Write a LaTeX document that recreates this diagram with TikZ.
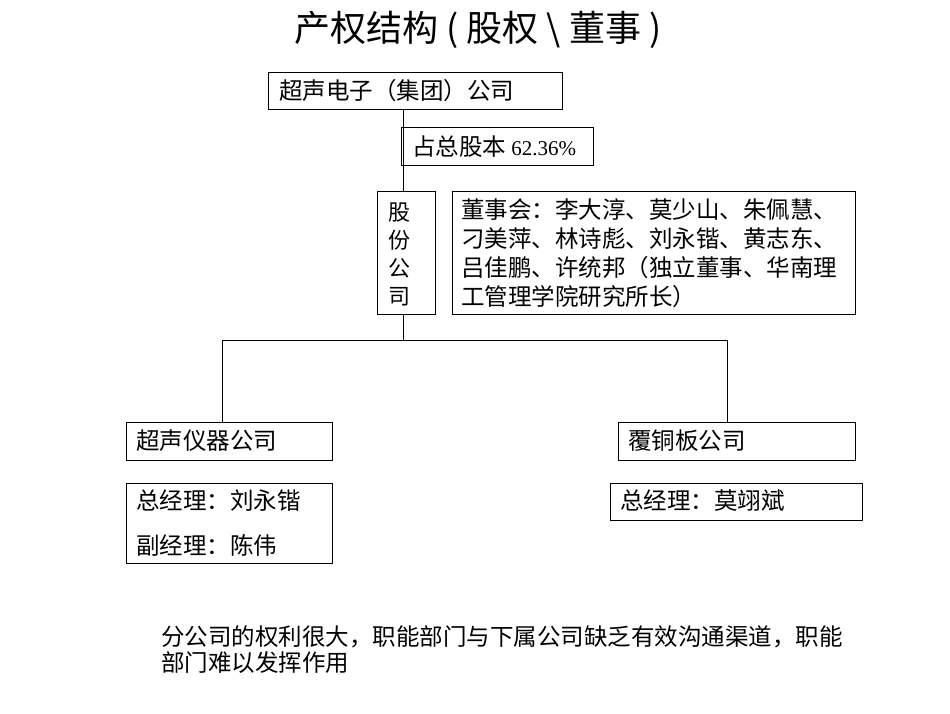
\documentclass[tikz,border=0pt]{standalone}
\usepackage{fontspec}
\setmainfont{Liberation Serif}
\newfontfamily\cjk{Noto Sans CJK SC}
\begin{document}
\begin{tikzpicture}[x=1pt,y=-1pt,
  bx/.style={draw,line width=0.8pt},
  tx/.style={anchor=west,font=\cjk\fontsize{23.5}{26}\selectfont,inner sep=0}]
\useasboundingbox (0,0) rectangle (950,713);
\node[font=\cjk\fontsize{36}{40}\selectfont] (title) at (478,30) {产权结构 ( 股权 \textbackslash\ 董事 )};
\draw[bx] (268,72) rectangle (562,109);
\node[tx] (grp) at (279,91) {超声电子（集团）公司};
\coordinate (grpb) at (403,109);
\draw[bx] (401,127) rectangle (593,165);
\node[tx] (pct) at (412,147) {占总股本 {\fontsize{21}{24}\selectfont\rmfamily 62.36\%}};
\draw[bx] (377,191) rectangle (435,314);
\coordinate (gft) at (403,191);
\coordinate (gfb) at (403,314);
\node[font=\cjk\fontsize{22}{28}\selectfont,align=center] (gf) at (399,254) {股\\份\\公\\司};
\draw[bx] (452,191) rectangle (855,314);
\node[tx,anchor=north west,align=left,font=\cjk\fontsize{23.5}{29}\selectfont] (board) at (461,198) {董事会：李大淳、莫少山、朱佩慧、\\刁美萍、林诗彪、刘永锴、黄志东、\\吕佳鹏、许统邦（独立董事、华南理\\工管理学院研究所长）};
\draw[line width=0.8pt] (grpb) -- (gft);
\draw[line width=0.8pt] (gfb) -- (403,340);
\draw[line width=0.8pt] (222,422) -- (222,340) -- (727,340) -- (727,422);
\draw[bx] (126,422) rectangle (332,460);
\node[tx] (yq) at (136,441) {超声仪器公司};
\draw[bx] (618,422) rectangle (855,460);
\node[tx] (ftb) at (628,441) {覆铜板公司};
\draw[bx] (126,483) rectangle (332,563);
\node[tx] (m1) at (136,501) {总经理：刘永锴};
\node[tx] (m2) at (136,545) {副经理：陈伟};
\draw[bx] (610,483) rectangle (862,520);
\node[tx] (m3) at (620,501) {总经理：莫翊斌};
\node[tx,anchor=north west,align=left,font=\cjk\fontsize{23.5}{26}\selectfont] (note) at (161,625) {分公司的权利很大，职能部门与下属公司缺乏有效沟通渠道，职能\\部门难以发挥作用};
\end{tikzpicture}
\end{document}
